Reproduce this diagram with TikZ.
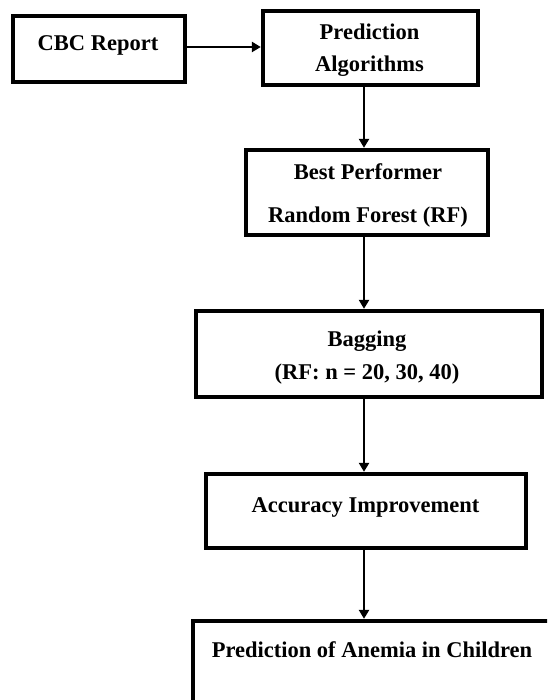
\documentclass[tikz,border=0pt]{standalone}
\usepackage{fontspec}
\setmainfont{Liberation Serif}
\usetikzlibrary{arrows.meta}
\begin{document}
\begin{tikzpicture}[x=1pt,y=-1pt,
  box/.style={draw=black, line width=3.3pt, fill=white, inner sep=0pt, rectangle},
  txt/.style={inner sep=0pt, anchor=base, font=\fontsize{22.5}{27}\selectfont\bfseries, text=black},
  arr/.style={line width=2.8pt, -{Triangle[length=9pt,width=10pt]}, shorten >=0.5pt}]
\useasboundingbox (0,0) rectangle (547,700);
\fill[white] (0,0) rectangle (547,700);
\begin{scope}
\clip (0,0) rectangle (547,700);
% boxes
\node[box, minimum width=172pt, minimum height=66pt] (cbc) at (99,49) {};
\node[box, minimum width=215pt, minimum height=74pt] (pred) at (370.5,48) {};
\node[box, minimum width=242pt, minimum height=85pt] (best) at (367,192.5) {};
\node[box, minimum width=346pt, minimum height=86pt] (bag) at (369,354) {};
\node[box, minimum width=320pt, minimum height=74pt] (acc) at (366,511) {};
\node[box, minimum width=407pt, minimum height=139pt] (final) at (396.5,690.5) {};
\coordinate (axis) at (364,0);
% texts
\node[txt] (t1) at (98,51) {CBC Report};
\node[txt] (t2) at (369.5,40) {Prediction};
\node[txt] (t3) at (369.5,72) {Algorithms};
\node[txt] (t4) at (368,180) {Best Performer};
\node[txt] (t5) at (368,223) {Random Forest (RF)};
\node[txt] (t6) at (367,346) {Bagging};
\node[txt] (t7) at (367,379) {(RF: n = 20, 30, 40)};
\node[txt] (t8) at (365.5,512) {Accuracy Improvement};
\node[txt] (t9) at (372,657) {Prediction of Anemia in Children};
% connectors
\draw[arr] (cbc.east |- 0,47) -- (pred.west |- 0,47);
\draw[arr] (pred.south -| axis) -- (best.north -| axis);
\draw[arr] (best.south -| axis) -- (bag.north -| axis);
\draw[arr] (bag.south -| axis) -- (acc.north -| axis);
\draw[arr] (acc.south -| axis) -- (final.north -| axis);
\end{scope}
\end{tikzpicture}
\end{document}
